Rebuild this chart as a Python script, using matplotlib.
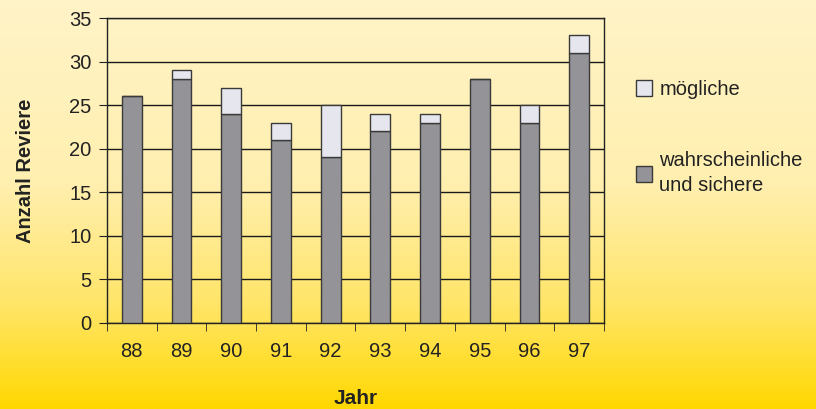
import matplotlib
matplotlib.use("Agg")
import matplotlib.pyplot as plt
from matplotlib.colors import LinearSegmentedColormap
import numpy as np

years = ["88", "89", "90", "91", "92", "93", "94", "95", "96", "97"]
sicher = [26, 28, 24, 21, 19, 22, 23, 28, 23, 31]
moeglich = [0, 1, 3, 2, 6, 2, 1, 0, 2, 2]

plt.rcParams["font.family"] = ["Liberation Sans", "DejaVu Sans"]

fig = plt.figure(figsize=(8.16, 4.09), dpi=100)

# background gradient, cream at top to yellow at bottom
bg = fig.add_axes([0, 0, 1, 1], zorder=-10)
cmap = LinearSegmentedColormap.from_list(
    "bg", [(0, "#fff4c8"), (0.45, "#ffefaf"), (0.75, "#ffe567"), (1, "#ffd800")])
grad = np.linspace(0, 1, 256).reshape(-1, 1)
bg.imshow(grad, aspect="auto", cmap=cmap, extent=[0, 1, 0, 1], origin="upper")
bg.axis("off")

ax = fig.add_axes([107 / 816, 1 - 323 / 409, 497 / 816, 305 / 409])
ax.patch.set_alpha(0)

x = np.arange(len(years))
ax.bar(x, sicher, width=0.4, color="#939398", edgecolor="#3a3a3a", linewidth=1,
       label="wahrscheinliche\nund sichere", zorder=3)
ax.bar(x, moeglich, width=0.4, bottom=sicher, color="#e6e7ee", edgecolor="#3a3a3a",
       linewidth=1, label="mögliche", zorder=3)

ax.set_xlim(-0.5, len(years) - 0.5)
ax.set_ylim(0, 35)
ax.set_yticks(range(0, 36, 5))
ax.yaxis.grid(True, color="#1a1a1a", linewidth=1)
ax.set_axisbelow(True)

ax.set_xticks(x)
ax.set_xticklabels(years)
ax.set_xticks(np.arange(-0.5, len(years), 1), minor=True)
ax.tick_params(axis="x", which="major", length=0, pad=14, labelsize=14.5, colors="#222222")
ax.tick_params(axis="x", which="minor", length=6, direction="out", color="#222222")
ax.tick_params(axis="y", length=6, direction="out", labelsize=14.5, colors="#222222", pad=5)

for s in ax.spines.values():
    s.set_color("#222222")
    s.set_linewidth(1)

ax.set_xlabel("Jahr", fontsize=15, fontweight="bold", color="#222222", labelpad=20)
ax.set_ylabel("Anzahl Reviere", fontsize=14.5, fontweight="bold", color="#222222", labelpad=25)

handles, labels = ax.get_legend_handles_labels()
leg = fig.legend(handles[::-1], labels[::-1], loc="upper left",
                 bbox_to_anchor=(618 / 816, 1 - 62 / 409), frameon=False,
                 fontsize=14.5, handlelength=0.8, handleheight=0.8,
                 handletextpad=0.35, labelspacing=2.6)
for t in leg.get_texts():
    t.set_color("#222222")
    t.set_linespacing(1.4)

fig.savefig("out.png", dpi=100)
